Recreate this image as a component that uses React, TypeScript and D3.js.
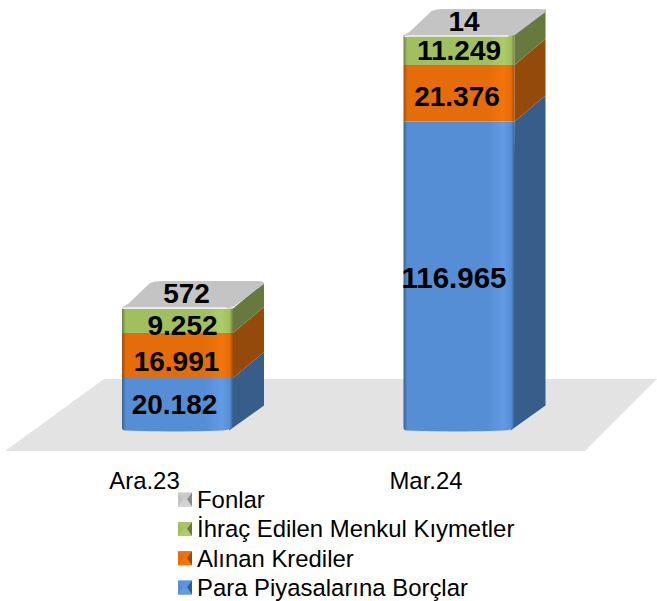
import * as d3 from "d3";

const periods = ["Ara.23", "Mar.24"];
const seriesNames = ["Para Piyasalarına Borçlar", "Alınan Krediler", "İhraç Edilen Menkul Kıymetler", "Fonlar"];
const paraPiyasalari = [20182, 116965];
const alinanKrediler = [16991, 21376];
const ihracEdilen = [9252, 11249];
const fonlar = [572, 14];
const labels = [
  ["20.182", "116.965"],
  ["16.991", "21.376"],
  ["9.252", "11.249"],
  ["572", "14"],
];

const frontColors = ["#558ed5", "#e46c0a", "#a2bf60", "#c4c4c4"];
const highlightColors = ["#629ae4", "#f5740a", "#adcb68", "#d2d2d2"];
const edgeColors = ["#38618f", "#a34c06", "#6d8040", "#8c8c8c"];
const sideColors = ["#375d8b", "#944a0a", "#67793f", "#8a8a8a"];

const width = 657, height = 601;
const dx = 31, dy = 26;
const font = "Arial, 'Liberation Sans', sans-serif";

const x = d3.scaleBand<string>().domain(periods).range([122, 514.5]).paddingInner(0.6057).paddingOuter(0);
const y = d3.scaleLinear().domain([0, 150000]).range([431.5, 34]);

const rows = periods.map((p, i) => ({
  period: p,
  para: paraPiyasalari[i],
  kredi: alinanKrediler[i],
  ihrac: ihracEdilen[i],
  fon: fonlar[i],
}));
const stack = d3.stack<any>().keys(["para", "kredi", "ihrac", "fon"]);
const layers = stack(rows);

const floor = d3.line()([[104, 379], [657, 379], [585, 451], [5, 451]]) + "Z";

// label placement in the original is not centred exactly
const labelShift = [
  [[-3, 0], [-5, 1]],
  [[-1, 6], [-2, 3]],
  [[5, 5], [0, 1]],
  [[9, 0], [5, -1]],
];

export default function App() {
  const bw = x.bandwidth();
  return (
    <svg width={width} height={height} style={{ position: "absolute", left: 0, top: 0, background: "#fff" }}>
      <defs>
        {frontColors.map((c, i) => (
          <linearGradient key={i} id={`front${i}`} x1="0" x2="1" y1="0" y2="0">
            <stop offset="0" stopColor={edgeColors[i]} />
            <stop offset="0.035" stopColor={c} />
            <stop offset="0.75" stopColor={c} />
            <stop offset="0.9" stopColor={highlightColors[i]} />
            <stop offset="0.97" stopColor={c} />
            <stop offset="1" stopColor={edgeColors[i]} />
          </linearGradient>
        ))}
      </defs>
      <path d={floor} fill="#e3e3e3" />
      {periods.map((p, b) => {
        const x0 = x(p)!;
        const x1 = x0 + bw;
        const top = y(layers[3][b][1]);
        return (
          <g key={p}>
            {layers.map((layer, s) => {
              const y0 = y(layer[b][0]);
              const y1 = y(layer[b][1]);
              if (s === 3) return null;
              const bottom = s === 0;
              const side = bottom
                ? `M${x1 - 4},${y0 - 1} L${x1 + dx},${y0 - dy} L${x1 + dx},${y1 - dy} L${x1},${y1} Z`
                : `M${x1},${y0} L${x1 + dx},${y0 - dy} L${x1 + dx},${y1 - dy} L${x1},${y1} Z`;
              const front = bottom
                ? `M${x0},${y1} H${x1} V${y0 - 7} Q${x1},${y0 - 2} ${x1 - 10},${y0 - 1} Q${(x0 + x1) / 2},${y0 + 1} ${x0 + 3},${y0 - 1} Q${x0},${y0 - 1} ${x0},${y0 - 4} Z`
                : `M${x0},${y1} H${x1} V${y0} H${x0} Z`;
              return (
                <g key={s}>
                  <path d={side} fill={sideColors[s]} />
                  <path d={front} fill={`url(#front${s})`} />
                </g>
              );
            })}
            <path
              d={`M${x0},${top + 2} Q${x0 + 1},${top - 1} ${x0 + 6},${top - 3} L${x0 + dx - 3},${top - dy + 2} Q${x0 + dx + 2},${top - dy} ${x0 + dx + 8},${top - dy} H${x1 + dx - 5} Q${x1 + dx},${top - dy} ${x1 + dx},${top - dy + 3} L${x1 + 3},${top - 2} Q${x1},${top + 1} ${x1 - 6},${top + 1} H${x0 + 5} Q${x0},${top + 1} ${x0},${top + 2} Z`}
              fill={frontColors[3]}
            />
            <path d={`M${x0 + 1},${top + 1.5} Q${x0 + 2},${top + 1} ${x0 + 6},${top + 1} H${x1 - 6}`} fill="none" stroke="#f2f2f2" strokeWidth={1.4} />
            {layers.map((layer, s) => {
              const mid = (y(layer[b][0]) + y(layer[b][1])) / 2;
              const ly = (s === 3 ? top - dy / 2 : mid) + labelShift[s][b][1];
              const lx = x0 + bw / 2 + labelShift[s][b][0];
              const size = labels[s][b].length > 6 ? 29.5 : 28;
              return (
                <text key={s} x={lx} y={ly} textAnchor="middle" dominantBaseline="central" fontFamily={font} fontWeight="bold" fontSize={size} fill="#000">
                  {labels[s][b]}
                </text>
              );
            })}
            <text x={x0 + bw / 2 - 33} y={480} textAnchor="middle" dominantBaseline="central" fontFamily={font} fontSize={23.9} fill="#000">
              {p}
            </text>
          </g>
        );
      })}
      {seriesNames.map((name, s) => {
        const cy = 587.5 - s * 29.3;
        const l = 178, r = 192, t = cy - 7, bt = cy + 7, mx = 185, my = cy;
        return (
          <g key={name}>
            <rect x={l} y={t} width={14} height={14} fill={frontColors[s]} />
            <path d={`M${r},${t} L${mx + 2},${my} L${mx - 2},${my} L${l},${t} Z`} fill={highlightColors[s]} opacity={0.5} />
            <path d={`M${r},${t} L${r},${bt} L${mx + 2},${my} Z`} fill={sideColors[s]} />
            <path d={`M${l},${bt} L${r},${bt} L${mx + 2},${my} L${mx - 2},${my} Z`} fill={highlightColors[s]} />
            <text x={197} y={cy} dominantBaseline="central" fontFamily={font} fontSize={23.9} fill="#000">
              {name}
            </text>
          </g>
        );
      })}
    </svg>
  );
}
